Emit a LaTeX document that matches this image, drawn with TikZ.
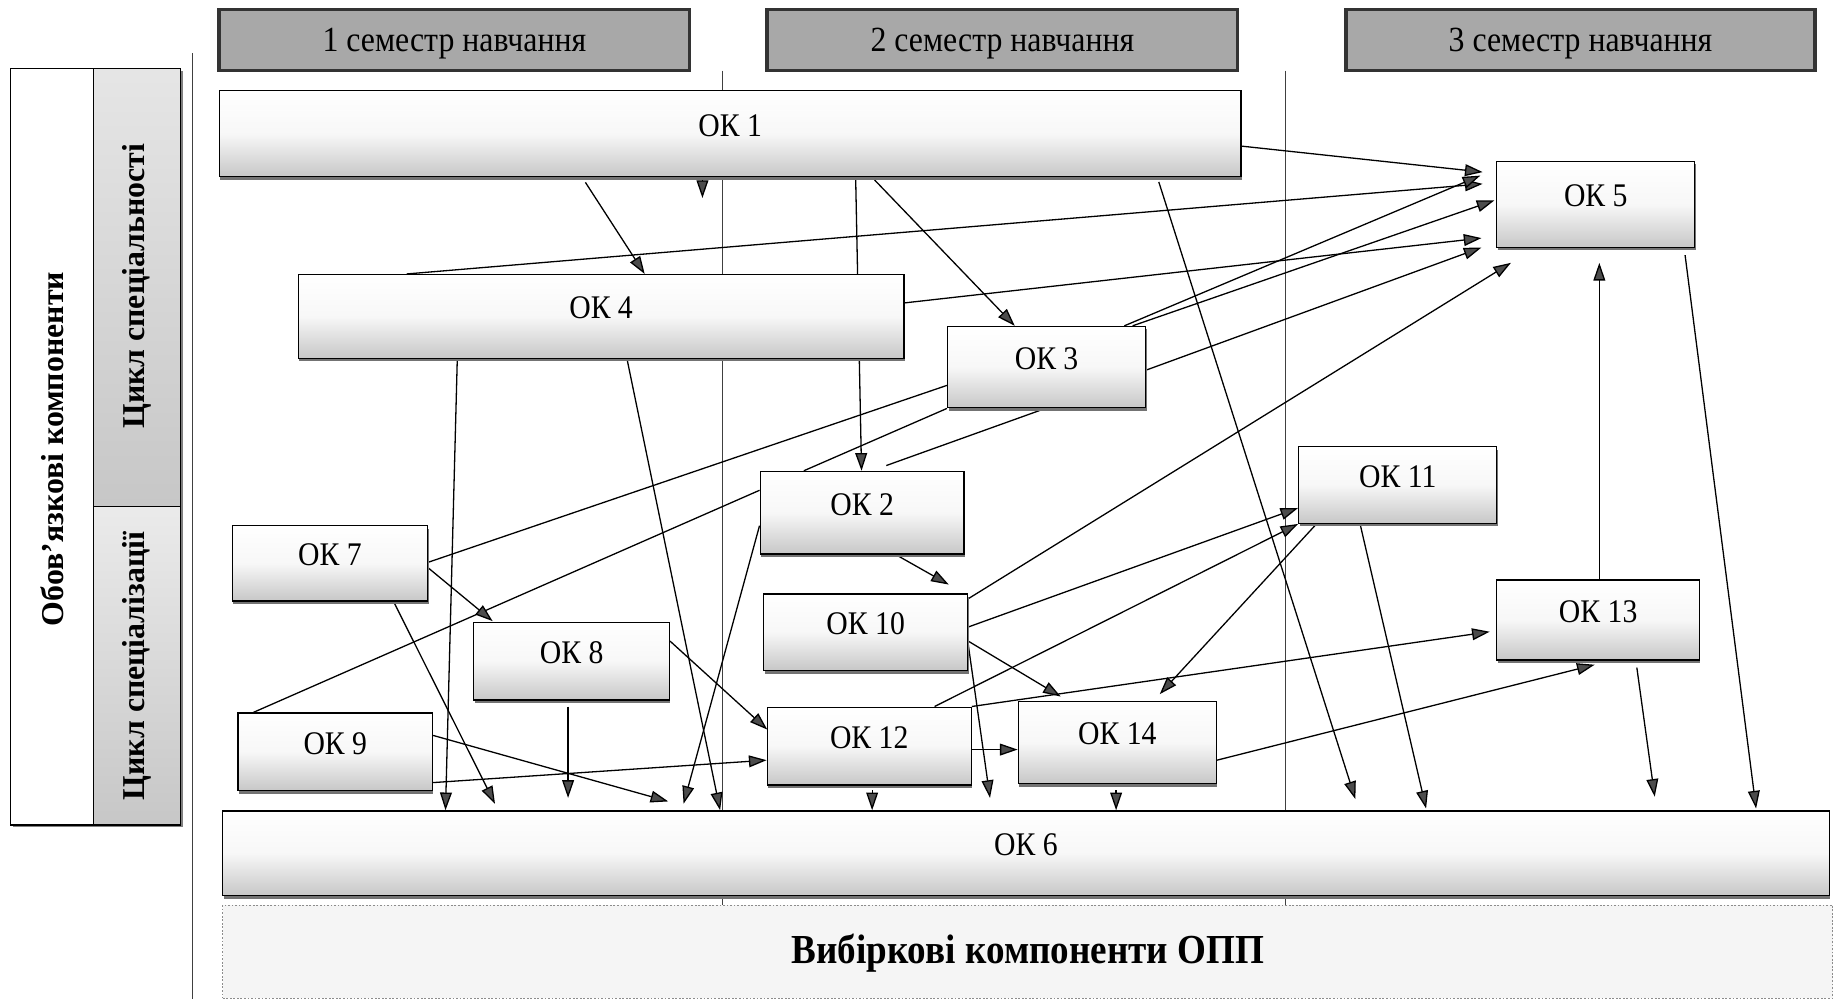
\documentclass[tikz,border=0pt]{standalone}
\usepackage{fontspec}
\setmainfont{Liberation Serif}
\usetikzlibrary{arrows.meta,shadows,backgrounds}
\newcommand\oklbl[1]{\scalebox{0.9}[1]{#1}}
\begin{document}
\begin{tikzpicture}[x=1pt,y=-1pt,
  okbox/.style={draw=black, line width=1.1pt, rectangle, inner sep=0pt,
    top color=white, bottom color=black!22, middle color=black!3,
    text height=4pt, text depth=0pt, font=\fontsize{28}{30}\selectfont,
    drop shadow={shadow xshift=0.8pt, shadow yshift=-2.5pt, fill=black!55, opacity=1}},
  hdr/.style={draw=black!80, line width=3pt, fill=black!34, inner sep=0pt,
    text height=20pt, text depth=0pt, font=\fontsize{30}{32}\selectfont},
  conn/.style={line width=1.1pt, draw=black},
  arr/.style={conn, -{Triangle[length=15pt,width=10pt,fill=black!70]}},
  guide/.style={line width=1pt, draw=black!75},
  sidetxt/.style={rotate=90, font=\bfseries\fontsize{27}{30}\selectfont}
]
\path[use as bounding box] (0,0) rectangle (1568,848);

% semester headers
\node[hdr, minimum width=399pt, minimum height=52pt] (h1) at (385.5,34) {\oklbl{1 семестр навчання}};
\node[hdr, minimum width=399pt, minimum height=52pt] (h2) at (850.5,34) {\oklbl{2 семестр навчання}};
\node[hdr, minimum width=398pt, minimum height=52pt] (h3) at (1341,34) {\oklbl{3 семестр навчання}};

% left panel
\fill[black!50] (11,60) rectangle (155,702);
\fill[white] (9,58) rectangle (153,700);
\shade[top color=black!10, bottom color=black!22] (79,58) rectangle (153,430);
\shade[top color=black!8, bottom color=black!22] (79,430) rectangle (153,700);
\draw[line width=1pt] (9,58) rectangle (153,700);
\draw[line width=1pt] (79,58) -- (79,700);
\draw[line width=1pt] (79,430) -- (153,430);
\node[sidetxt] (oblig) at (44,381) {Обов'язкові компоненти};
\node[sidetxt] (cspec) at (116,243) {Цикл спеціальності};
\node[sidetxt] (cspez) at (116,565) {Цикл спеціалізації};

% components
\node[okbox, minimum width=867pt, minimum height=73pt] (ok1) at (619.5,113.5) {\oklbl{ОК 1}};
\node[okbox, minimum width=514pt, minimum height=71pt] (ok4) at (510,268.5) {\oklbl{ОК 4}};
\node[okbox, minimum width=168pt, minimum height=69pt] (ok3) at (888,311.5) {\oklbl{ОК 3}};
\node[okbox, minimum width=168pt, minimum height=73pt] (ok5) at (1354,173.5) {\oklbl{ОК 5}};
\node[okbox, minimum width=173pt, minimum height=70pt] (ok2) at (731.5,435) {\oklbl{ОК 2}};
\node[okbox, minimum width=168pt, minimum height=65pt] (ok11) at (1186,411.5) {\oklbl{ОК 11}};
\node[okbox, minimum width=166pt, minimum height=64pt] (ok7) at (280,478) {\oklbl{ОК 7}};
\node[okbox, minimum width=166pt, minimum height=66pt] (ok8) at (485,561) {\oklbl{ОК 8}};
\node[okbox, minimum width=173pt, minimum height=65pt] (ok10) at (734.5,536.5) {\oklbl{ОК 10}};
\node[okbox, minimum width=165pt, minimum height=66pt] (ok9) at (284.5,638) {\oklbl{ОК 9}};
\node[okbox, minimum width=173pt, minimum height=66pt] (ok12) at (737.5,633) {\oklbl{ОК 12}};
\node[okbox, minimum width=168pt, minimum height=70pt] (ok14) at (948,630) {\oklbl{ОК 14}};
\node[okbox, minimum width=172pt, minimum height=68pt] (ok13) at (1356,526) {\oklbl{ОК 13}};
\node[okbox, minimum width=1363pt, minimum height=72pt] (ok6) at (870.5,724) {\oklbl{ОК 6}};
\node[draw=black!45, line width=1pt, dash pattern=on 1.5pt off 1.5pt, fill=black!4,
  minimum width=1366pt, minimum height=79pt, inner sep=0pt, text height=20pt, text depth=0pt,
  font=\bfseries\fontsize{35}{38}\selectfont] (opt) at (872,807.5) {\oklbl{Вибіркові компоненти ОПП}};

% free arrow ends
\coordinate (t1) at (1258,146);
\coordinate (t2) at (1258,156);
\coordinate (t3) at (1256,149);
\coordinate (t4) at (1268,170);
\coordinate (t5) at (1257,202);
\coordinate (t6) at (1257,210);
\coordinate (t7) at (1282,223);
\coordinate (t8) at (596,168);
\coordinate (t12) at (1150,678);
\coordinate (t17) at (752,395);
\coordinate (t19) at (805,496);
\coordinate (t20) at (580,682);
\coordinate (t21) at (418,527);
\coordinate (t22) at (420,682);
\coordinate (t23) at (482,677);
\coordinate (t24) at (651,619);
\coordinate (t25) at (567,680);
\coordinate (t30) at (840,677);
\coordinate (t31) at (900,591);
\coordinate (t34) at (984,589);
\coordinate (t35) at (1264,536);
\coordinate (t36) at (1353,564);
\coordinate (t37) at (1357,223);
\coordinate (t38) at (1490,686);
\coordinate (t39) at (1404,676);
\coordinate (t40) at (1210,686);

\begin{scope}[on background layer]
% semester dividers
\draw[guide] (613,60) -- (613,768);
\draw[guide] (1091,60) -- (1091,768);
\draw[guide] (163,45) -- (163,848);
% connectors
\draw[arr] (ok1.east |- 0,124) -- (t1);
\draw[arr] (345,0 |- ok4.north) -- (t2);
\draw[arr] (954,0 |- ok3.north) -- (t3);
\draw[arr] (961,0 |- ok3.north) -- (t4);
\draw[arr] (ok4.east |- 0,257) -- (t5);
\draw[arr] (ok3.east |- 0,314) -- (t6);
\draw[arr] (ok10.east |- 0,508) -- (t7);
\draw[arr] (596,0 |- ok1.south) -- (t8);
\draw[arr, shorten <=5pt] (494,0 |- ok1.south) -- (547,0 |- ok4.north);
\draw[arr, shorten <=3pt] (740,0 |- ok1.south) -- (861,0 |- ok3.north);
\draw[arr] (726,0 |- ok1.south) -- (731,0 |- ok2.north);
\draw[arr, shorten <=4pt] (982,0 |- ok1.south) -- (t12);
\draw[arr] (388,0 |- ok4.south) -- (378,0 |- ok6.north);
\draw[arr] (532,0 |- ok4.south) -- (611,0 |- ok6.north);
\draw[conn] (ok7.east |- 0,477) -- (ok3.west |- 0,327);
\draw[conn] (215,0 |- ok9.north) -- (ok2.west |- 0,416);
\draw[conn] (887,0 |- ok3.south) -- (t17);
\draw[conn] (682,0 |- ok2.north) -- (ok3.south west);
\draw[arr] (760,0 |- ok2.south) -- (t19);
\draw[arr] (ok2.west |- 0,446) -- (t20);
\draw[arr] (ok7.east |- 0,482) -- (t21);
\draw[arr] (334,0 |- ok7.south) -- (t22);
\draw[arr, shorten <=5pt] (482,0 |- ok8.south) -- (t23);
\draw[arr] (ok8.east |- 0,544) -- (t24);
\draw[arr] (ok9.east |- 0,624) -- (t25);
\draw[arr] (ok9.east |- 0,664) -- (ok12.west |- 0,645);
\draw[arr, shorten <=4pt] (740,0 |- ok12.south) -- (740,0 |- ok6.north);
\draw[arr] (ok12.east |- 0,636) -- (ok14.west |- 0,636);
\draw[arr, shorten <=5pt] (947,0 |- ok14.south) -- (947,0 |- ok6.north);
\draw[arr] (ok10.east |- 0,547) -- (t30);
\draw[arr] (ok10.east |- 0,544) -- (t31);
\draw[arr] (ok10.east |- 0,532) -- (ok11.west |- 0,431);
\draw[arr] (793,0 |- ok12.north) -- (ok11.south west);
\draw[arr] (1117,0 |- ok11.south) -- (t34);
\draw[arr] (ok12.north east) -- (t35);
\draw[arr] (ok14.east |- 0,645) -- (t36);
\draw[arr] (1357,0 |- ok13.north) -- (t37);
\draw[arr, shorten <=6pt] (1429,0 |- ok5.south) -- (t38);
\draw[arr, shorten <=6pt] (1388,0 |- ok13.south) -- (t39);
\draw[arr] (1154,0 |- ok11.south) -- (t40);
\end{scope}
\end{tikzpicture}
\end{document}
